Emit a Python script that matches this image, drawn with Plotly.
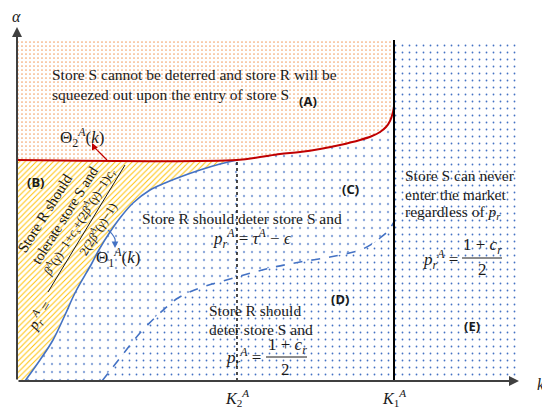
import plotly.graph_objects as go

# ---- threshold values on the k axis and alpha levels ----
K2 = 220          # K_2^A
K1 = 377          # K_1^A
K_MAX = 502       # right end of the drawn k range
ALPHA_FLAT = 221  # level of the flat part of Theta_2^A(k)
ALPHA_TOP = 340   # upper edge of the shaded regions

# Theta_1^A(k): rising boundary of region (B), joins Theta_2^A at K2
theta1_k = [8, 23, 36, 48, 58, 75, 83, 93, 103, 116, 133, 148, 163, 183, 203, 220]
theta1_a = [0, 21, 41, 66, 88, 118, 133, 149, 163, 178, 191, 198, 204, 211, 217, 221]

# Theta_2^A(k) for k between K2 and K1 (flat at ALPHA_FLAT before K2)
theta2_k = [220, 243, 263, 283, 303, 323, 343, 355, 363, 369, 373, 376, 377]
theta2_a = [221, 224, 227, 229, 232, 236, 241, 245, 249, 254, 260, 269, 275]

# dashed boundary between regions (C) and (D)
dash_k = [85, 103, 123, 143, 161, 183, 220, 253, 283, 313, 343, 355, 363, 371, 377]
dash_a = [0, 23, 48, 68, 83, 93, 104, 113, 119, 124, 131, 137, 143, 150, 159]

X0, Y0 = 17, 381   # pixel location of the origin in the 542x407 page

SERIF = "Liberation Serif"
SANS = "Noto Sans"
INK = "#1a1a1a"
BLUE = "#4472c4"
RED = "#c00000"
BODY = 15.5
MATH = 17

fig = go.Figure()


def region(xs, ys, shape, fg, size, solidity):
    fig.add_trace(go.Scatter(
        x=xs, y=ys, mode="none", fill="toself", hoverinfo="skip",
        fillcolor="white",
        fillpattern=dict(shape=shape, fgcolor=fg, bgcolor="white",
                         size=size, solidity=solidity, fillmode="replace"),
    ))


# (A) above Theta_2
a_x = [0, K1] + theta2_k[::-1] + [0]
a_y = [ALPHA_TOP, ALPHA_TOP] + theta2_a[::-1] + [ALPHA_FLAT]
region(a_x, a_y, ".", "#f4a56c", 4, 0.15)

# (B) between the alpha axis, the flat line and Theta_1
b_x = [0, K2] + theta1_k[::-1] + [0]
b_y = [ALPHA_FLAT, ALPHA_FLAT] + theta1_a[::-1] + [0]
region(b_x, b_y, "/", "#ffc000", 4, 0.24)

# (C) between Theta_1/Theta_2 and the dashed curve
c_x = theta1_k + theta2_k[1:] + dash_k[::-1]
c_y = theta1_a + theta2_a[1:] + dash_a[::-1]
region(c_x, c_y, ".", "#8faadc", 8, 0.07)

# (D) under the dashed curve
d_x = dash_k + [K1]
d_y = dash_a + [0]
region(d_x, d_y, ".", BLUE, 7, 0.05)

# (E) right of K1
region([K1, K_MAX, K_MAX, K1], [0, 0, ALPHA_TOP, ALPHA_TOP], ".", BLUE, 7, 0.05)

# boundary curves
fig.add_trace(go.Scatter(x=theta1_k, y=theta1_a, mode="lines", hoverinfo="skip",
                         line=dict(color=BLUE, width=1.6, shape="spline")))
fig.add_trace(go.Scatter(x=dash_k, y=dash_a, mode="lines", hoverinfo="skip",
                         line=dict(color=BLUE, width=1.6, dash="dash", shape="spline")))
fig.add_trace(go.Scatter(x=[0] + theta2_k, y=[ALPHA_FLAT] + theta2_a, mode="lines",
                         hoverinfo="skip", line=dict(color=RED, width=2, shape="spline")))

# K1 and K2 verticals
fig.add_trace(go.Scatter(x=[K1, K1], y=[0, ALPHA_TOP + 1], mode="lines", hoverinfo="skip",
                         line=dict(color="black", width=2)))
fig.add_trace(go.Scatter(x=[K2, K2], y=[0, ALPHA_FLAT], mode="lines", hoverinfo="skip",
                         line=dict(color="black", width=1.4, dash="dot")))

# curved leader lines for the curve labels
fig.add_trace(go.Scatter(x=[90, 86, 81, 78, 76], y=[221, 225, 230, 233, 236], mode="lines",
                         hoverinfo="skip", line=dict(color=RED, width=1.2, shape="spline")))
fig.add_trace(go.Scatter(x=[91, 95, 98, 98], y=[151, 147, 142, 137], mode="lines",
                         hoverinfo="skip", line=dict(color=BLUE, width=1.2, shape="spline")))

ann = []


def arrow(x, y, ax, ay, color, width, size=1.0, head=2):
    ann.append(dict(x=x, y=y, ax=ax, ay=ay, xref="x", yref="y", axref="x", ayref="y",
                    text="", showarrow=True, arrowhead=head, arrowsize=size,
                    arrowwidth=width, arrowcolor=color, standoff=0, startstandoff=0))


def text(x, y, s, size=BODY, font=SERIF, xanchor="center", angle=0, color=INK):
    ann.append(dict(x=x, y=y, xref="x", yref="y", text=s, showarrow=False,
                    xanchor=xanchor, yanchor="middle", textangle=angle,
                    font=dict(family=font, size=size, color=color)))


PRA = "<i>p</i><sub><i>r</i></sub><sup><i>A</i></sup>"

# axes with arrowheads
arrow(0, 354, 0, 0, "#404040", 2, 1.0, 2)
arrow(K_MAX, 0, 0, 0, "#404040", 2, 1.0, 2)
# label leader arrowheads
arrow(75, 238, 77, 234, RED, 1.2, 1.1, 2)
arrow(98, 133, 98, 138, BLUE, 1.2, 1.1, 2)

# axis labels
text(-1, 365, "<i>α</i>", 16)
text(518, -3, "<i>k</i>", 16, xanchor="left")
text(K2, -17, "<i>K</i><sub>2</sub><sup><i>A</i></sup>", 16)
text(K1, -17, "<i>K</i><sub>1</sub><sup><i>A</i></sup>", 16)

# region (A)
text(33, 307, "Store S cannot be deterred and store R will be", xanchor="left")
text(33, 287, "squeezed out upon the entry of store S", xanchor="left")
text(291, 280, "<b>(A)</b>", 13, font=SANS)
text(65, 244, "Θ<sub>2</sub><sup><i>A</i></sup>(<i>k</i>)", MATH)

# region (B), rotated along Theta_1
ROT = -58
text(18, 199, "<b>(B)</b>", 13, font=SANS)
text(28, 168, "Store R should", 15, angle=ROT)
text(48, 166, "tolerate store S and", 14.5, angle=ROT)
text(22, 65, PRA + " =", 15, angle=ROT)
text(62, 159, "<i>β</i><sup><i>A</i></sup>(<i>γ</i>)−1+<i>c</i><sub><i>s</i></sub>+(2<i>β</i><sup><i>A</i></sup>(<i>γ</i>)−1)<i>c</i><sub><i>r</i></sub>",
     12.5, angle=ROT)
text(80, 152, "2(2<i>β</i><sup><i>A</i></sup>(<i>γ</i>)−1)", 12.5, angle=ROT)
text(101, 124, "Θ<sub>1</sub><sup><i>A</i></sup>(<i>k</i>)", MATH)

# region (C)
text(333, 192, "<b>(C)</b>", 13, font=SANS)
text(225, 163, "Store R should deter store S and")
text(235, 143, PRA + " = <i>τ</i><sup><i>A</i></sup> − <i>ϵ</i>", MATH)

# region (D)
text(323, 82, "<b>(D)</b>", 13, font=SANS)
text(190, 71, "Store R should", xanchor="left")
text(190, 52, "deter store S and", xanchor="left")
text(226, 24, PRA + " =", MATH)
text(270, 35, "1 + <i>c</i><sub><i>r</i></sub>", MATH)
text(268, 12, "2", MATH)

# region (E)
text(455, 55, "<b>(E)</b>", 13, font=SANS)
text(386, 206, "Store S can never", xanchor="left")
text(386, 187, "enter the market", xanchor="left")
text(386, 169, "regardless of <i>p</i><sub><i>r</i></sub>", xanchor="left")
text(423, 122, PRA + " =", MATH)
text(465, 135, "1 + <i>c</i><sub><i>r</i></sub>", MATH)
text(465, 112, "2", MATH)

shapes = [
    # fraction bars
    dict(type="line", xref="x", yref="y", x0=31, y0=89, x1=108, y1=216,
         line=dict(color=INK, width=1)),
    dict(type="line", xref="x", yref="y", x0=249, y0=24, x1=290, y1=24,
         line=dict(color=INK, width=1)),
    dict(type="line", xref="x", yref="y", x0=445, y0=123, x1=485, y1=123,
         line=dict(color=INK, width=1)),
]

fig.update_layout(
    width=542, height=407,
    margin=dict(l=0, r=0, t=0, b=0),
    paper_bgcolor="white", plot_bgcolor="white",
    showlegend=False,
    xaxis=dict(range=[-X0, 542 - X0], visible=False, fixedrange=True),
    yaxis=dict(range=[Y0 - 407, Y0], visible=False, fixedrange=True),
    annotations=ann,
    shapes=shapes,
)

fig.write_html("out.html")
